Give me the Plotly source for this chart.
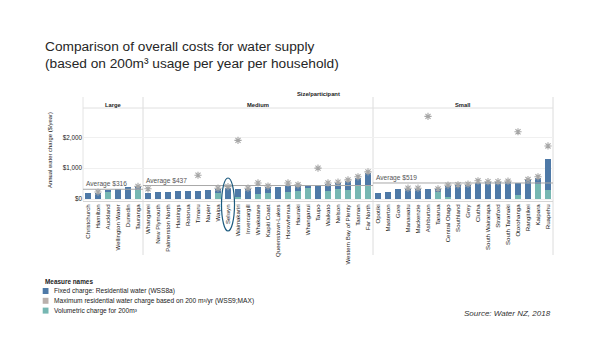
import plotly.graph_objects as go

# ---------------- data ----------------
large = ["Christchurch", "Hamilton", "Auckland", "Wellington Water", "Dunedin", "Tauranga"]
medium = ["Whangarei", "New Plymouth", "Palmerston North", "Hastings", "Rotorua", "Timaru",
          "Napier", "Waipa", "Selwyn", "Waimakariri", "Invercargill", "Whakatane", "Kapiti Coast",
          "Queenstown-Lakes", "Horowhenua", "Hauraki", "Whanganui", "Taupo", "Waikato", "Nelson",
          "Western Bay of Plenty", "Tasman", "Far North"]
small = ["Opotiki", "Masterton", "Gore", "Manawatu", "Mackenzie", "Ashburton", "Tararua",
         "Central Otago", "Southland", "Grey", "Clutha", "South Wairarapa", "Stratford",
         "South Taranaki", "Otorohanga", "Rangitikei", "Kaipara", "Ruapehu"]

large_fixed = [200, 210, 30, 320, 400, 60]
large_vol = [0, 0, 250, 0, 0, 320]
large_max = [None, 225, None, None, None, 410]

medium_fixed = [200, 220, 240, 245, 265, 275, 300, 140, 370, 250, 335, 230, 220, 380, 190, 190,
                80, 460, 240, 190, 310, 220, 380]
medium_vol = [0, 0, 0, 0, 0, 0, 0, 190, 0, 80, 0, 170, 180, 0, 230, 250, 365, 0, 255, 330, 280,
              470, 470]
medium_max = [330, None, None, None, None, 770, None, 350, 400, 1900, 350, 520, 420, None, 520,
              460, None, 1000, 520, 545, 620, 720, 880]

small_fixed = [190, 240, 310, 330, 330, 310, 60, 360, 440, 460, 510, 540, 540, 560, 400, 600,
               170, 1000]
small_vol = [0, 0, 0, 0, 0, 0, 250, 60, 0, 0, 0, 0, 0, 0, 130, 0, 500, 290]
small_max = [None, None, None, 350, 350, 2680, 330, 450, 460, 480, 590, 560, 560, 580, 2180, 630,
             720, 1720]

group_names = ["Large", "Medium", "Small"]
group_members = [large, medium, small]
averages = [316, 437, 519]
highlight = "Selwyn"

categories = large + medium + small
fixed = large_fixed + medium_fixed + small_fixed
volumetric = large_vol + medium_vol + small_vol
maximum = large_max + medium_max + small_max

series_names = ["Fixed charge: Residential water (WSS8a)",
                "Maximum residential water charge based on 200 m³/yr (WSS9;MAX)",
                "Volumetric charge for 200m³"]
series_colors = ["#4e79a7", "#bab0ac", "#76b7b2"]
star_color = "#a6a6a6"

# ---------------- layout geometry ----------------
W, H = 595, 354
PL, PR, PT, PB = 83, 553, 108, 201
FONT = "Liberation Sans, Arial, sans-serif"
TXT = "#333333"


def fx(px):
    return (px - PL) / (PR - PL)


def fy(py):
    return (PB - py) / (PB - PT)


n = len(categories)

fig = go.Figure()
fig.add_trace(go.Bar(x=categories, y=volumetric, name=series_names[2],
                     marker=dict(color=series_colors[2], line=dict(width=0)), showlegend=False))
fig.add_trace(go.Bar(x=categories, y=fixed, name=series_names[0],
                     marker=dict(color=series_colors[0], line=dict(width=0)), showlegend=False))
fig.add_trace(go.Scatter(x=categories, y=maximum, mode="markers", name=series_names[1],
                         marker=dict(symbol="asterisk-open", size=6, color=star_color,
                                     line=dict(color=star_color, width=1.1)),
                         showlegend=False))

shapes = []
annotations = []

# title
annotations.append(dict(text="Comparison of overall costs for water supply", x=fx(43), y=fy(47),
                        xref="paper", yref="paper", xanchor="left", yanchor="middle",
                        showarrow=False, font=dict(family=FONT, size=13.7, color="#262626")))
annotations.append(dict(text="(based on 200m³ usage per year per household)", x=fx(43), y=fy(63.5),
                        xref="paper", yref="paper", xanchor="left", yanchor="middle",
                        showarrow=False, font=dict(family=FONT, size=13.7, color="#262626")))

# header
annotations.append(dict(text="<b>Size/participant</b>", x=0.5, y=fy(94.5), xref="paper",
                        yref="paper", xanchor="center", yanchor="middle", showarrow=False,
                        font=dict(family=FONT, size=5.8, color="#222")))

start = 0
for gname, members, avg in zip(group_names, group_members, averages):
    end = start + len(members)
    x0p, x1p = start / n, end / n
    annotations.append(dict(text="<b>%s</b>" % gname, x=(x0p + x1p) / 2, y=fy(104.5),
                            xref="paper", yref="paper", xanchor="center", yanchor="middle",
                            showarrow=False, font=dict(family=FONT, size=5.8, color="#222")))
    # average line and label
    shapes.append(dict(type="line", xref="x", yref="y", x0=start - 0.5, x1=end - 0.5,
                       y0=avg, y1=avg, line=dict(color="#a8a8a8", width=1), layer="above"))
    annotations.append(dict(text="Average $%d" % avg, x=start - 0.5, y=avg, xref="x", yref="y",
                            xanchor="left", yanchor="bottom", xshift=1, yshift=-1,
                            showarrow=False, font=dict(family=FONT, size=6.6, color="#555")))
    # right divider
    shapes.append(dict(type="line", xref="paper", yref="paper", x0=x1p, x1=x1p,
                       y0=fy(255), y1=fy(97), line=dict(color="#dcdcdc", width=1), layer="below"))
    start = end

# left edge and top line
shapes.append(dict(type="line", xref="paper", yref="paper", x0=0, x1=0, y0=0, y1=fy(97),
                   line=dict(color="#e4e4e4", width=1), layer="below"))
shapes.append(dict(type="line", xref="paper", yref="paper", x0=0, x1=1, y0=1, y1=1,
                   line=dict(color="#e0e0e0", width=1), layer="below"))

# highlight ellipse
hi = categories.index(highlight)
shapes.append(dict(type="circle", xref="paper", yref="paper",
                   x0=(hi + 0.5 - 0.65) / n, x1=(hi + 0.5 + 0.65) / n,
                   y0=fy(231), y1=fy(178), line=dict(color="#1d5b7f", width=1.2)))

# y axis title
annotations.append(dict(text="Annual water charge ($/year)", x=fx(50), y=fy(150), xref="paper",
                        yref="paper", textangle=-90, xanchor="center", yanchor="middle",
                        showarrow=False, font=dict(family=FONT, size=5.9, color="#222")))

# legend
annotations.append(dict(text="<b>Measure names</b>", x=fx(42.5), y=fy(281.5), xref="paper",
                        yref="paper", xanchor="left", yanchor="middle", showarrow=False,
                        font=dict(family=FONT, size=6.4, color="#222")))
for i, (nm, col) in enumerate(zip(series_names, series_colors)):
    cy = 291 + 9.8 * i
    shapes.append(dict(type="rect", xref="paper", yref="paper", x0=fx(42.7), x1=fx(48.5),
                       y0=fy(cy + 3), y1=fy(cy - 3), fillcolor=col, line=dict(width=0)))
    annotations.append(dict(text=nm, x=fx(51.5), y=fy(cy), xref="paper", yref="paper",
                            xanchor="left", yanchor="middle", showarrow=False,
                            font=dict(family=FONT, size=6.6, color="#222")))

# source
annotations.append(dict(text="<i>Source: Water NZ, 2018</i>", x=fx(553), y=fy(313.5),
                        xref="paper", yref="paper", xanchor="right", yanchor="middle",
                        showarrow=False, font=dict(family=FONT, size=8, color="#333")))

fig.update_layout(
    width=W, height=H,
    margin=dict(l=PL, r=W - PR, t=PT, b=H - PB, pad=0),
    paper_bgcolor="white", plot_bgcolor="white",
    barmode="stack", bargap=0.33,
    showlegend=False,
    shapes=shapes, annotations=annotations,
    font=dict(family=FONT, color=TXT),
    xaxis=dict(type="category", categoryorder="array", categoryarray=categories,
               range=[-0.5, n - 0.5], tickangle=-90, ticks="", showgrid=False,
               showline=True, linecolor="#d5d5d5", linewidth=1,
               tickfont=dict(family=FONT, size=6.1, color="#222"), automargin=False),
    yaxis=dict(range=[-65, 2950], tickvals=[0, 1000, 2000],
               ticktext=["$0", "$1,000", "$2,000"], showgrid=True, gridcolor="#f0f0f0",
               gridwidth=1, zeroline=False, showline=False, ticks="",
               tickfont=dict(family=FONT, size=6.3, color="#222"), automargin=False),
)

fig.write_html("out.html")
